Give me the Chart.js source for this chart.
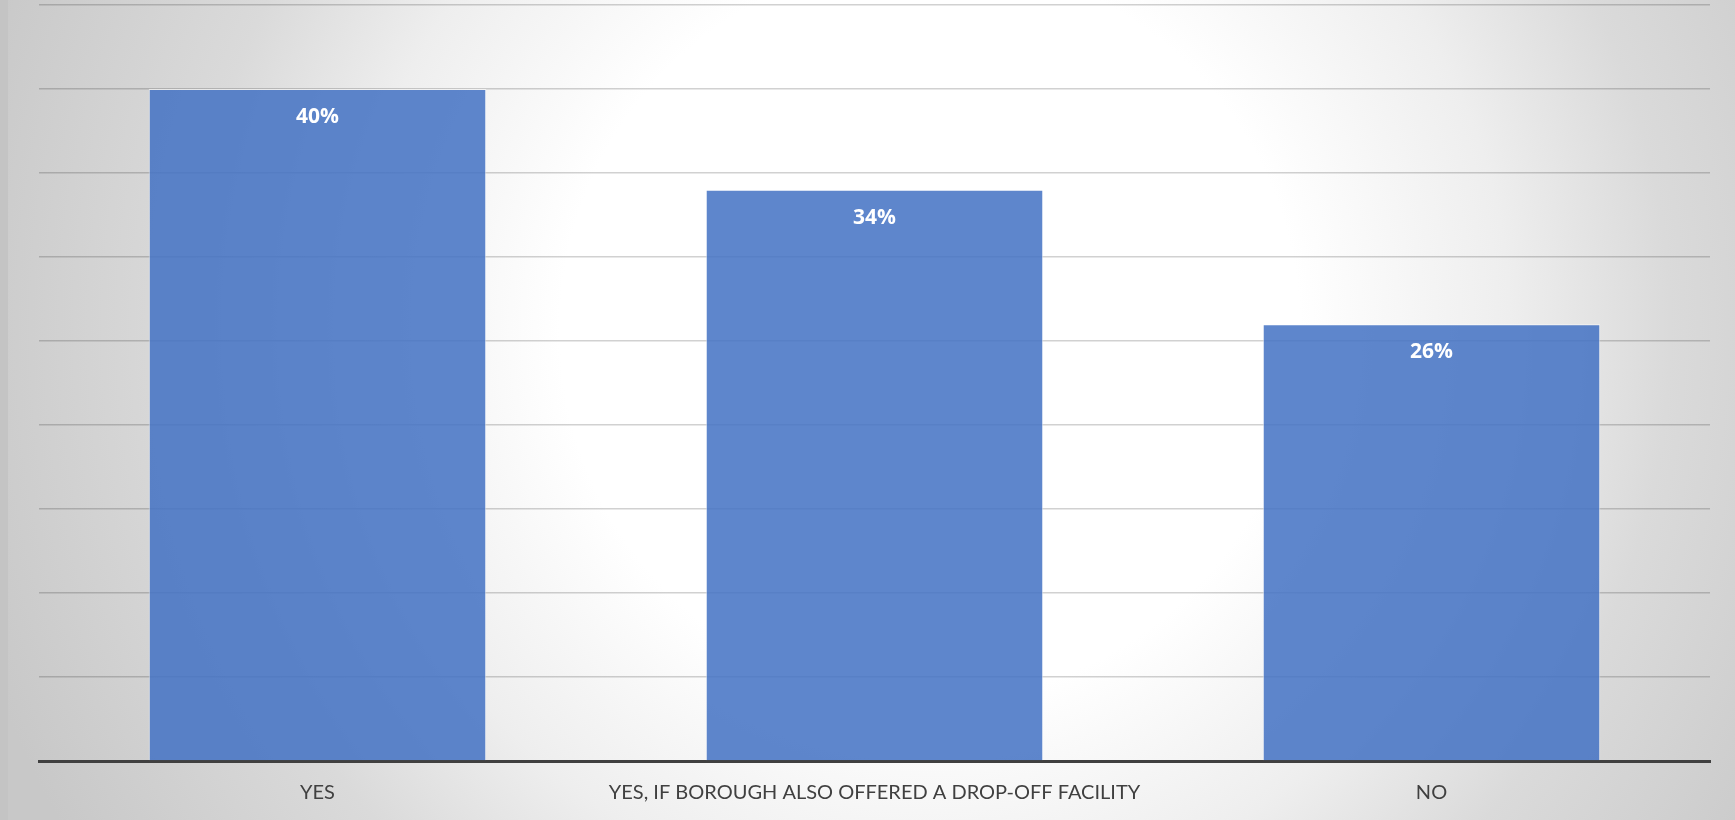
<!DOCTYPE html>
<html>
<head>
<meta charset="utf-8">
<script src="https://cdn.jsdelivr.net/npm/chart.js@4/dist/chart.umd.min.js"></script>
<style>
    body { margin: 0; }
    #quadro {
        position: relative;
        width: 1735px;
        height: 820px;
        background: radial-gradient(circle 1000px at 930px 330px, #ffffff 0%, #ffffff 37%, #eeeeee 58%, #dadada 74%, #c8c8c8 100%);
    }
    #quadro::before {
        content: "";
        position: absolute;
        left: 0; top: 0; bottom: 0;
        width: 8px;
        background: #c4c4c4;
    }
</style>
</head>
<body>
<div id="quadro">
    <canvas id="grafico"></canvas>
</div>
<script>
const categorias = ['YES', 'YES, IF BOROUGH ALSO OFFERED A DROP-OFF FACILITY', 'NO'];
const valores = [40, 34, 26];
const rotulos = ['40%', '34%', '26%'];

// escreve o percentual dentro do topo de cada barra
const rotulosPlugin = {
    id: 'rotulosBarras',
    afterDatasetsDraw(chart) {
        const ctx = chart.ctx;
        const meta = chart.getDatasetMeta(0);
        ctx.save();
        ctx.fillStyle = '#ffffff';
        ctx.font = 'bold 21px "Open Sans"';
        ctx.textAlign = 'center';
        ctx.textBaseline = 'middle';
        meta.data.forEach((barra, i) => {
            ctx.fillText(rotulos[i], barra.x, barra.y + 28);
        });
        ctx.restore();
    }
};

const grafico = document.getElementById('grafico');

new Chart(grafico, {
    type: 'bar',
    data: {
        labels: categorias,
        datasets: [{
            data: valores,
            backgroundColor: 'rgba(68,114,196,0.86)',
            borderColor: 'rgba(255,255,255,0.6)',
            borderWidth: 1,
            categoryPercentage: 1,
            barPercentage: 0.606
        }]
    },
    options: {
        responsive: true,
        maintainAspectRatio: false,
        animation: false,
        layout: {
            padding: { left: 39, right: 25, top: 5, bottom: 0 }
        },
        plugins: {
            legend: { display: false },
            tooltip: { enabled: false }
        },
        scales: {
            y: {
                min: 0,
                max: 45,
                ticks: { display: false, stepSize: 5 },
                border: { display: false },
                grid: { color: 'rgba(0,0,0,0.18)', lineWidth: 1.5, drawTicks: false },
                afterFit(scale) { scale.width = 0; }
            },
            x: {
                grid: { display: false, drawTicks: false },
                border: { color: '#404040', width: 3 },
                ticks: {
                    color: '#404040',
                    padding: 20,
                    font: { family: 'Lato', size: 20 }
                },
                afterFit(scale) { scale.height = 59; }
            }
        }
    },
    plugins: [rotulosPlugin]
});
</script>
</body>
</html>
